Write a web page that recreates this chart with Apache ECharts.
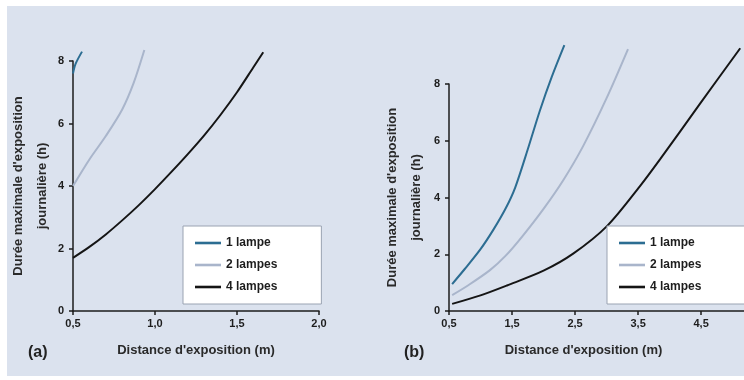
<!DOCTYPE html>
<html>
<head>
<meta charset="utf-8">
<script src="https://cdn.jsdelivr.net/npm/echarts@6/dist/echarts.min.js"></script>
<style>
  html, body { margin: 0; padding: 0; background: #fff; }
  #chart { width: 744px; height: 380px; }
</style>
</head>
<body>
<div id="chart"></div>
<script>
// noms des séries
const seriesNames = ['1 lampe', '2 lampes', '4 lampes'];
const seriesColors = ['#2c6d92', '#a9b5cb', '#151515'];

// (a) distance 0,5 – 2,0 m
const a1Lampe = [[0.5, 7.6], [0.515, 7.9], [0.555, 8.3]];
const a2Lampes = [[0.5, 4.0], [0.6, 4.85], [0.7, 5.6], [0.8, 6.45], [0.87, 7.3], [0.935, 8.35]];
const a4Lampes = [[0.5, 1.7], [0.6, 2.05], [0.7, 2.45], [0.8, 2.9], [0.9, 3.38], [1.0, 3.9],
                  [1.1, 4.45], [1.2, 5.02], [1.3, 5.62], [1.4, 6.28], [1.5, 7.0], [1.6, 7.8], [1.66, 8.28]];

// (b) distance 0,5 – 5 m
const b1Lampe = [[0.55, 0.95], [0.75, 1.48], [1.0, 2.18], [1.2, 2.85], [1.4, 3.62], [1.55, 4.35],
                 [1.75, 5.7], [1.94, 7.05], [2.13, 8.25], [2.33, 9.37]];
const b2Lampes = [[0.55, 0.56], [0.8, 0.9], [1.15, 1.44], [1.4, 1.95], [1.67, 2.65], [2.0, 3.6],
                  [2.31, 4.6], [2.63, 5.82], [3.0, 7.5], [3.34, 9.23]];
const b4Lampes = [[0.55, 0.25], [1.0, 0.55], [1.42, 0.9], [2.0, 1.42], [2.47, 2.02], [3.01, 3.0],
                  [3.53, 4.4], [3.85, 5.35], [4.48, 7.3], [5.12, 9.26]];

const yTitle = "Durée maximale d'exposition\njournalière (h)";
const xTitle = "Distance d'exposition (m)";

const chart = echarts.init(document.getElementById('chart'));
const FONT = "'Liberation Sans', Arial, sans-serif";
const ink = '#1d1d1d';
const lineIcon = 'path://M0,0H26V2.6H0Z';

function fmt(v) {
    return v.toFixed(1).replace('.', ',');
}

function xAxis(idx, min, max, interval, namePad) {
    return {
        type: 'value', gridIndex: idx, min: min, max: max, interval: interval,
        name: xTitle, nameLocation: 'middle', nameGap: 33,
        nameTextStyle: { fontFamily: FONT, fontSize: 13, fontWeight: 600, color: '#2a2a2a', padding: namePad },
        axisLine: { lineStyle: { color: ink, width: 1.5 } },
        axisTick: { length: 4, lineStyle: { color: ink, width: 1.5 } },
        splitLine: { show: false },
        axisLabel: { margin: 7, formatter: fmt, showMaxLabel: idx === 0, fontFamily: FONT, fontSize: 11, fontWeight: 'bold', color: ink }
    };
}

function yAxis(idx, gap) {
    return {
        type: 'value', gridIndex: idx, min: 0, max: 8, interval: 2,
        name: yTitle, nameLocation: 'middle', nameGap: gap,
        nameTextStyle: { fontFamily: FONT, fontSize: 13, fontWeight: 600, color: '#2a2a2a', lineHeight: 24 },
        axisLine: { show: true, lineStyle: { color: ink, width: 1.5 } },
        axisTick: { show: true, length: 4, lineStyle: { color: ink, width: 1.5 } },
        splitLine: { show: false },
        axisLabel: { margin: 9, fontFamily: FONT, fontSize: 11, fontWeight: 'bold', color: ink }
    };
}

function line(name, data, idx, color) {
    return {
        name: name, type: 'line', xAxisIndex: idx, yAxisIndex: idx,
        data: data, smooth: 0.3, symbol: 'none', clip: false,
        lineStyle: { color: color, width: 2 }, itemStyle: { color: color }
    };
}

function legend(left, padRight) {
    return {
        orient: 'vertical', left: left, top: 226,
        data: seriesNames.map(function (n) { return { name: n, icon: lineIcon }; }),
        selectedMode: false,
        itemWidth: 26, itemHeight: 14, itemGap: 10,
        padding: [11, padRight, 11, 12],
        backgroundColor: '#fff', borderColor: '#9aa3b2', borderWidth: 1, borderRadius: 0,
        textStyle: { fontFamily: FONT, fontSize: 12, fontWeight: 'bold', color: ink }
    };
}

chart.setOption({
    animation: false,
    graphic: [
        { type: 'rect', z: -10, shape: { x: 7, y: 6, width: 737, height: 370 }, style: { fill: '#dbe2ee' } },
        { type: 'text', left: 28, top: 345, style: { text: '(a)', font: 'bold 16px ' + FONT, fill: '#222' } },
        { type: 'text', left: 404, top: 345, style: { text: '(b)', font: 'bold 16px ' + FONT, fill: '#222' } }
    ],
    legend: [legend(183, 44), legend(607, 50)],
    grid: [
        { left: 73, top: 61, width: 246, height: 250 },
        { left: 449, top: 84, right: 0, height: 227 }
    ],
    xAxis: [xAxis(0, 0.5, 2.0, 0.5, [0, 0, 0, 0]), xAxis(1, 0.5, 5.18, 1, [0, 26, 0, 0])],
    yAxis: [yAxis(0, 13), yAxis(1, 21)],
    series: [
        line(seriesNames[0], a1Lampe, 0, seriesColors[0]),
        line(seriesNames[1], a2Lampes, 0, seriesColors[1]),
        line(seriesNames[2], a4Lampes, 0, seriesColors[2]),
        line(seriesNames[0], b1Lampe, 1, seriesColors[0]),
        line(seriesNames[1], b2Lampes, 1, seriesColors[1]),
        line(seriesNames[2], b4Lampes, 1, seriesColors[2])
    ]
});
</script>
</body>
</html>
